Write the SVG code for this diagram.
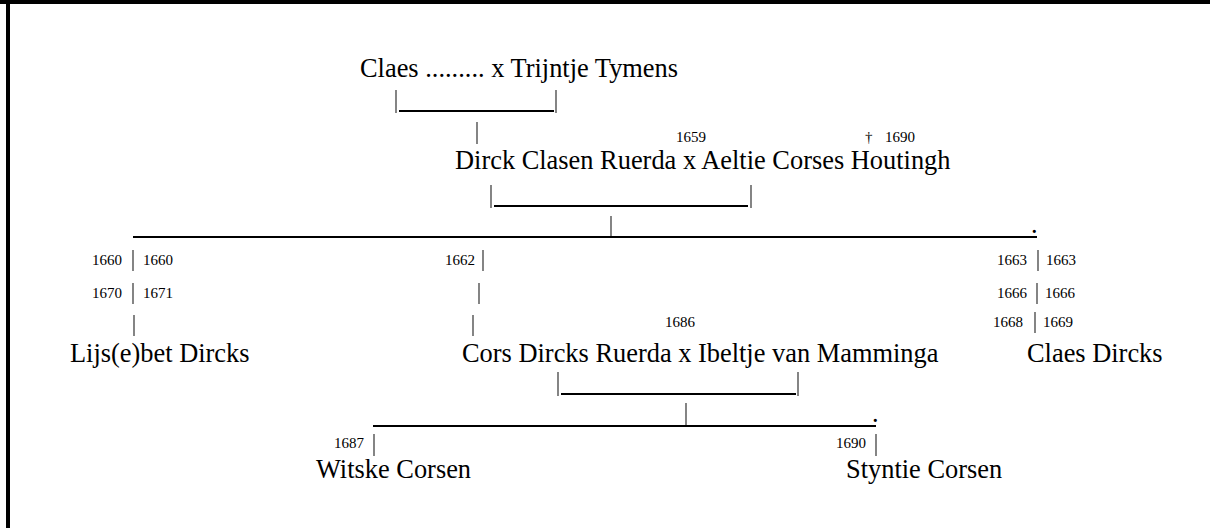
<svg xmlns="http://www.w3.org/2000/svg" width="1210" height="528" viewBox="0 0 1210 528">
<style>
.name{font-family:"Liberation Serif","Times New Roman",serif;font-size:26.4px;fill:#000}
.date{font-family:"Liberation Serif","Times New Roman",serif;font-size:15px;fill:#000}
.bar{stroke:#333;stroke-width:1.2;fill:none}
.rule{stroke:#000;stroke-width:2;fill:none}
</style>
<rect x="0" y="0" width="1210" height="528" fill="#fff"/>
<rect x="0" y="0" width="1210" height="4" fill="#000"/>
<rect x="6" y="0" width="4" height="528" fill="#000"/>

<g id="n1"><text class="name" x="360" y="77">Claes ......... x Trijntje Tymens</text></g>
<g id="n2">
<text class="date" x="676" y="142">1659</text>
<text class="date" x="865" y="142">†<tspan x="885">1690</tspan></text>
<text class="name" x="455" y="169">Dirck Clasen Ruerda x Aeltie Corses Houtingh</text>
</g>
<g id="n3">
<text class="date" x="92" y="265">1660</text><text class="date" x="143" y="265">1660</text>
<text class="date" x="92" y="298">1670</text><text class="date" x="143" y="298">1671</text>
<text class="name" x="70" y="362">Lijs(e)bet Dircks</text>
</g>
<g id="n4">
<text class="date" x="445" y="265">1662</text>
<text class="date" x="665" y="327">1686</text>
<text class="name" x="462" y="362">Cors Dircks Ruerda x Ibeltje van Mamminga</text>
</g>
<g id="n5">
<text class="date" x="997" y="265">1663</text><text class="date" x="1046" y="265">1663</text>
<text class="date" x="997" y="298">1666</text><text class="date" x="1045" y="298">1666</text>
<text class="date" x="993" y="327">1668</text><text class="date" x="1043" y="327">1669</text>
<text class="name" x="1027" y="362">Claes Dircks</text>
</g>
<g id="n6">
<text class="date" x="334" y="448">1687</text>
<text class="name" x="316" y="478">Witske Corsen</text>
</g>
<g id="n7">
<text class="date" x="836" y="448">1690</text>
<text class="name" x="846" y="478">Styntie Corsen</text>
</g>

<g id="connectors">
<line class="bar" x1="396" y1="90" x2="396" y2="113"/>
<line class="rule" x1="399" y1="111" x2="554" y2="111"/>
<line class="bar" x1="556" y1="90" x2="556" y2="113"/>
<line class="bar" x1="477" y1="122" x2="477" y2="144"/>

<line class="bar" x1="491" y1="185" x2="491" y2="208"/>
<line class="rule" x1="494" y1="206" x2="748" y2="206"/>
<line class="bar" x1="751" y1="185" x2="751" y2="208"/>
<line class="bar" x1="611" y1="216" x2="611" y2="238"/>
<line class="rule" x1="133" y1="237" x2="1037" y2="237"/>
<text class="name" x="1031" y="233">.</text>

<line class="bar" x1="133" y1="250" x2="133" y2="271"/>
<line class="bar" x1="133" y1="283" x2="133" y2="304"/>
<line class="bar" x1="134" y1="315" x2="134" y2="336"/>

<line class="bar" x1="483" y1="250" x2="483" y2="271"/>
<line class="bar" x1="479" y1="283" x2="479" y2="304"/>
<line class="bar" x1="473" y1="315" x2="473" y2="336"/>

<line class="bar" x1="1038" y1="250" x2="1038" y2="271"/>
<line class="bar" x1="1037" y1="283" x2="1037" y2="304"/>
<line class="bar" x1="1035" y1="312" x2="1035" y2="333"/>

<line class="bar" x1="558" y1="372" x2="558" y2="396"/>
<line class="rule" x1="561" y1="394" x2="796" y2="394"/>
<line class="bar" x1="798" y1="372" x2="798" y2="396"/>
<line class="bar" x1="686" y1="403" x2="686" y2="426"/>
<line class="rule" x1="373" y1="426" x2="876" y2="426"/>
<text class="name" x="872" y="422">.</text>

<line class="bar" x1="374" y1="434" x2="374" y2="456"/>
<line class="bar" x1="876" y1="434" x2="876" y2="456"/>
</g>
</svg>
